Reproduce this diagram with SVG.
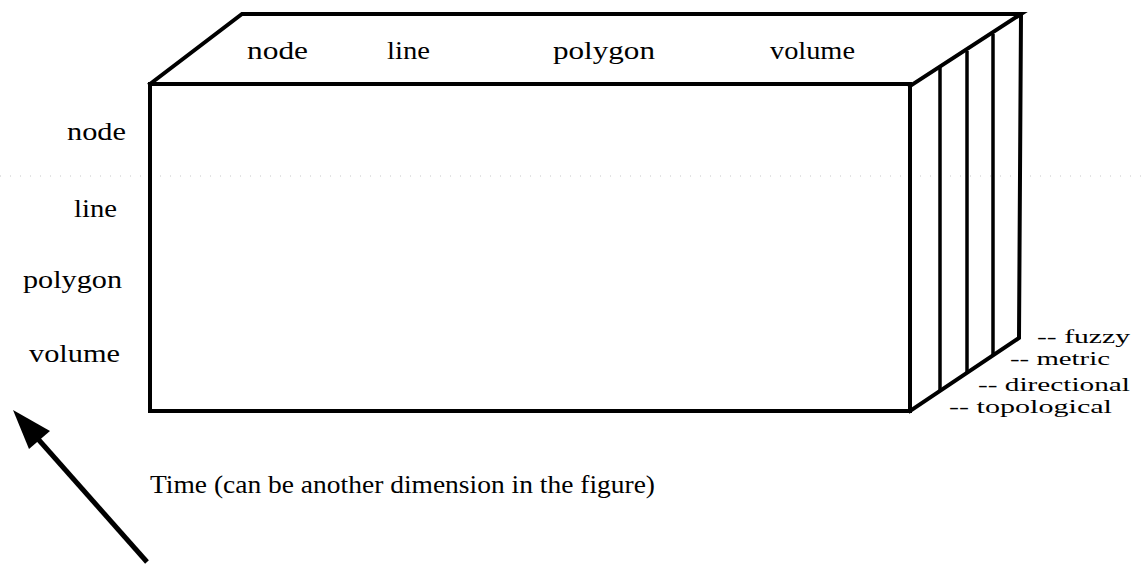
<svg xmlns="http://www.w3.org/2000/svg" width="1147" height="564" viewBox="0 0 1147 564">
<style>
.edge{fill:none;stroke:#000;stroke-width:4;stroke-linejoin:miter;stroke-linecap:square}
.slice{fill:none;stroke:#000;stroke-width:3.5}
text{font-family:'Liberation Serif','Times New Roman',Tinos,'DejaVu Serif',serif;font-size:26px;fill:#000}
.r{font-size:18px}
.noise{stroke:#c8c8c8;stroke-width:1;stroke-dasharray:1 9}
</style>
<rect width="1147" height="564" fill="#fff"/>
<line class="noise" x1="0" y1="176" x2="1147" y2="176"/>
<g id="box">
  <rect class="edge" x="150" y="84" width="760" height="327"/>
  <polyline class="edge" points="150,84 242,14 1021,14 910,86"/>
  <polyline class="edge" points="1021,14 1019,338 910,411"/>
</g>
<g id="slices">
  <line class="slice" x1="940" y1="67" x2="940" y2="392"/>
  <line class="slice" x1="967" y1="51" x2="967" y2="374"/>
  <line class="slice" x1="993" y1="34" x2="993" y2="356"/>
</g>
<g id="top-labels">
  <text x="247" y="59" textLength="61" lengthAdjust="spacingAndGlyphs">node</text>
  <text x="387" y="59" textLength="43" lengthAdjust="spacingAndGlyphs">line</text>
  <text x="553" y="59" textLength="102" lengthAdjust="spacingAndGlyphs">polygon</text>
  <text x="770" y="59" textLength="85" lengthAdjust="spacingAndGlyphs">volume</text>
</g>
<g id="left-labels">
  <text x="67" y="140" textLength="59" lengthAdjust="spacingAndGlyphs">node</text>
  <text x="74" y="217" textLength="43" lengthAdjust="spacingAndGlyphs">line</text>
  <text x="23" y="288" textLength="99" lengthAdjust="spacingAndGlyphs">polygon</text>
  <text x="29" y="362" textLength="91" lengthAdjust="spacingAndGlyphs">volume</text>
</g>
<g id="right-labels">
  <text class="r" x="1037" y="343" textLength="93" lengthAdjust="spacingAndGlyphs">-- fuzzy</text>
  <text class="r" x="1010" y="365" textLength="100" lengthAdjust="spacingAndGlyphs">-- metric</text>
  <text class="r" x="978" y="391" textLength="152" lengthAdjust="spacingAndGlyphs">-- directional</text>
  <text class="r" x="949" y="413" textLength="163" lengthAdjust="spacingAndGlyphs">-- topological</text>
</g>
<g id="time-arrow">
  <line x1="147" y1="562" x2="38" y2="439" stroke="#000" stroke-width="5"/>
  <polygon points="13,410 50,431 29,449" fill="#000"/>
  <text x="150" y="493" textLength="505" lengthAdjust="spacingAndGlyphs">Time (can be another dimension in the figure)</text>
</g>
</svg>
